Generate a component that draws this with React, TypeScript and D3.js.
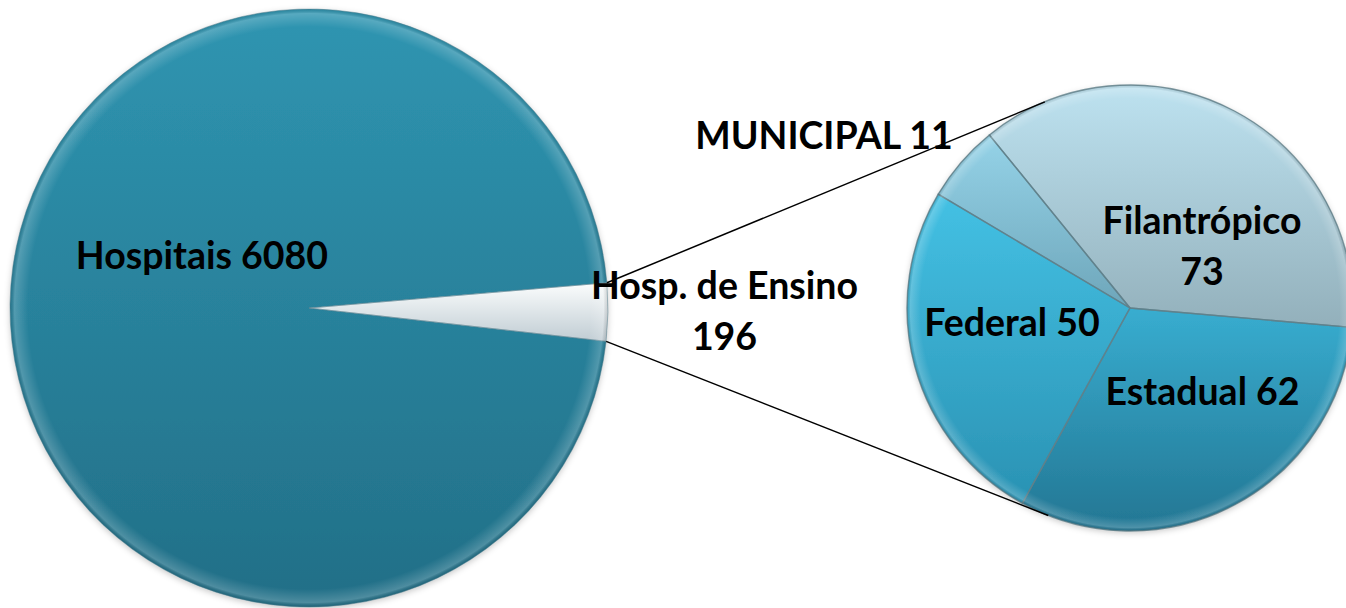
import React from "react";
import * as d3 from "d3";

// ---- data ----
const mainLabels = ["Hospitais", "Hosp. de Ensino"];
const mainValues = [6080, 196];
const subLabels = ["Filantrópico", "Estadual", "Federal", "MUNICIPAL"];
const subValues = [73, 62, 50, 11];

// ---- layout ----
const W = 1346;
const H = 608;
const big = { cx: 309, cy: 308, r: 299 };
const small = { cx: 1130, cy: 308, r: 223 };
const deg = Math.PI / 180;
const bigStart = 96.4 * deg; // rotation of first slice
const smallStart = -39.1 * deg;
const FONT = "Lato, 'Noto Sans', sans-serif";
const FS = 37.5;

const mainColors = [
  { top: "#2f95b1", bottom: "#226f87" },
  { top: "#fbfdfd", bottom: "#c0ccd3" },
];
const subColors = [
  { top: "#bde2f0", bottom: "#93b0bb" },
  { top: "#38add0", bottom: "#237693" },
  { top: "#44c1e4", bottom: "#2a92b3" },
  { top: "#95d3e8", bottom: "#6ea6ba" },
];

// label anchors (relative to pie centres), multi-line labels
const mainLabelPos = [
  { dx: -107, dy: -39, lines: (l: string, v: number) => [`${l} ${v}`] },
  { dx: 415.5, dy: -9, lines: (l: string, v: number) => [l, `${v}`] },
];
const subLabelPos = [
  { dx: 72, dy: -74, lines: (l: string, v: number) => [l, `${v}`] },
  { dx: 72.5, dy: 97, lines: (l: string, v: number) => [`${l} ${v}`] },
  { dx: -118, dy: 28, lines: (l: string, v: number) => [`${l} ${v}`] },
  { dx: -306, dy: -159, lines: (l: string, v: number) => [`${l} ${v}`] },
];

function tangentPoints(px: number, py: number, c: { cx: number; cy: number; r: number }) {
  const dx = px - c.cx;
  const dy = py - c.cy;
  const d = Math.hypot(dx, dy);
  const theta = Math.atan2(dy, dx);
  const alpha = Math.acos(c.r / d);
  const a = [theta + alpha, theta - alpha].map((t) => [c.cx + c.r * Math.cos(t), c.cy + c.r * Math.sin(t)]);
  return a.sort((p, q) => p[1] - q[1]);
}

function polar(c: { cx: number; cy: number }, r: number, a: number) {
  return [c.cx + r * Math.sin(a), c.cy - r * Math.cos(a)];
}

export default function App() {
  const bigPie = d3.pie<number>().sort(null).startAngle(bigStart).endAngle(bigStart + 2 * Math.PI)(mainValues);
  const smallPie = d3.pie<number>().sort(null).startAngle(smallStart).endAngle(smallStart + 2 * Math.PI)(subValues);
  const bigArc = d3.arc<d3.PieArcDatum<number>>().innerRadius(0).outerRadius(big.r);
  const smallArc = d3.arc<d3.PieArcDatum<number>>().innerRadius(0).outerRadius(small.r);

  const ens = bigPie[1];
  const p1 = polar(big, big.r, ens.startAngle);
  const p2 = polar(big, big.r, ens.endAngle);
  const t1 = tangentPoints(p1[0], p1[1], small)[0];
  const t2 = tangentPoints(p2[0], p2[1], small)[1];

  const grad = (id: string, c: { top: string; bottom: string }) => (
    <linearGradient id={id} x1={0} y1={0} x2={0} y2={1}>
      <stop offset="0" stopColor={c.top} />
      <stop offset="1" stopColor={c.bottom} />
    </linearGradient>
  );

  const renderLabel = (x: number, y: number, lines: string[], key: string) => (
    <text key={key} x={x} y={y} textAnchor="middle" fontFamily={FONT} fontWeight={700} fontSize={FS} fill="#000">
      {lines.map((ln, i) => (
        <tspan key={i} x={x} dy={i === 0 ? 0 : 51}>
          {ln}
        </tspan>
      ))}
    </text>
  );

  return (
    <svg width={W} height={H} style={{ position: "absolute", left: 0, top: 0, background: "#fff" }}>
      <defs>
        {mainColors.map((c, i) => grad(`mg${i}`, c))}
        {subColors.map((c, i) => grad(`sg${i}`, c))}
        <radialGradient id="rim" cx="50%" cy="50%" r="50%">
          <stop offset="0.94" stopColor="#ffffff" stopOpacity={0} />
          <stop offset="0.985" stopColor="#ffffff" stopOpacity={0.2} />
          <stop offset="1" stopColor="#000000" stopOpacity={0.1} />
        </radialGradient>
        <filter id="shadow" x="-10%" y="-10%" width="120%" height="120%">
          <feDropShadow dx="0" dy="2" stdDeviation="3" floodColor="#000" floodOpacity="0.22" />
        </filter>
      </defs>

      {/* main pie */}
      <g filter="url(#shadow)" transform={`translate(${big.cx},${big.cy})`}>
        {bigPie.map((d, i) => (
          <path key={i} d={bigArc(d) || ""} fill={`url(#mg${i})`} />
        ))}
      </g>
      {/* sub pie */}
      <g filter="url(#shadow)" transform={`translate(${small.cx},${small.cy})`}>
        {smallPie.map((d, i) => (
          <path key={i} d={smallArc(d) || ""} fill={`url(#sg${i})`} />
        ))}
      </g>
      {/* slice borders & rim */}
      <g transform={`translate(${big.cx},${big.cy})`}>
        {bigPie.map((d, i) => (
          <path key={i} d={bigArc(d) || ""} fill="none" stroke="#5d8795" strokeOpacity={0.5} strokeWidth={1} />
        ))}
        <circle r={big.r} fill="url(#rim)" />
      </g>
      <g transform={`translate(${small.cx},${small.cy})`}>
        {smallPie.map((d, i) => (
          <path key={i} d={smallArc(d) || ""} fill="none" stroke="#5f7f8a" strokeOpacity={0.8} strokeWidth={1.4} />
        ))}
        <circle r={small.r} fill="url(#rim)" />
      </g>

      {/* connector lines */}
      <line x1={p1[0]} y1={p1[1]} x2={t1[0]} y2={t1[1]} stroke="#000" strokeWidth={1.5} />
      <line x1={p2[0]} y1={p2[1]} x2={t2[0]} y2={t2[1]} stroke="#000" strokeWidth={1.5} />

      {/* labels */}
      {bigPie.map((d, i) =>
        renderLabel(big.cx + mainLabelPos[i].dx, big.cy + mainLabelPos[i].dy, mainLabelPos[i].lines(mainLabels[i], d.data), `ml${i}`)
      )}
      {smallPie.map((d, i) =>
        renderLabel(small.cx + subLabelPos[i].dx, small.cy + subLabelPos[i].dy, subLabelPos[i].lines(subLabels[i], d.data), `sl${i}`)
      )}
    </svg>
  );
}
